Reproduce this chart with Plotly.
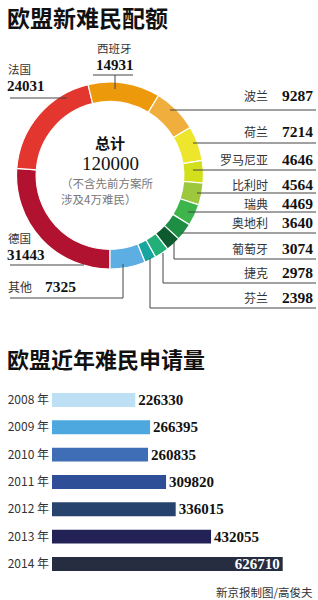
import plotly.graph_objects as go

W, H = 318, 600

# ---- Data ----
quota_countries = ["德国", "法国", "西班牙", "波兰", "荷兰", "罗马尼亚", "比利时",
                   "瑞典", "奥地利", "葡萄牙", "捷克", "芬兰", "其他"]
quota_values = [31443, 24031, 14931, 9287, 7214, 4646, 4564, 4469, 3640, 3074, 2978, 2398, 7325]
quota_colors = ["#B0122F", "#E3362F", "#EC9A0C", "#F0AF3C", "#EEE62C", "#D2DF1C", "#9DC83E",
                "#3DB54A", "#1E8E45", "#0D5A2E", "#22AF78", "#18A59F", "#5CAEE3"]
quota_total = 120000

years = ["2008 年", "2009 年", "2010 年", "2011 年", "2012 年", "2013 年", "2014 年"]
applications = [226330, 266395, 260835, 309820, 336015, 432055, 626710]
bar_colors = ["#BEE0F4", "#4EA8E0", "#3F6EB6", "#2E4E98", "#28426E", "#232256", "#262D40"]

SERIF = "Liberation Serif"
SANS = "Noto Sans CJK SC"


def px(x):
    return x / W


def py(y):
    return 1 - y / H


fig = go.Figure()

# ---- Donut ----
cx, cy, R = 110, 175.5, 93.5
fig.add_trace(go.Pie(
    labels=quota_countries, values=quota_values, sort=False, direction="clockwise",
    rotation=180, hole=0.79, textinfo="none", hoverinfo="label+value",
    marker=dict(colors=quota_colors, line=dict(color="white", width=1.2)),
    domain=dict(x=[px(cx - R), px(cx + R)], y=[py(cy + R), py(cy - R)]),
    showlegend=False,
))

# ---- Bars ----
fig.add_trace(go.Bar(
    y=years, x=applications, orientation="h",
    marker=dict(color=bar_colors, line=dict(width=0)),
    text=[str(v) for v in applications],
    texttemplate="<b>%{text}</b>",
    textposition=["outside"] * 6 + ["inside"],
    insidetextanchor="end",
    outsidetextfont=dict(family=SERIF, size=15, color="#111"),
    insidetextfont=dict(family=SERIF, size=15, color="white"),
    textfont=dict(family=SERIF, size=15),
    constraintext="none", cliponaxis=False,
    xaxis="x", yaxis="y", showlegend=False,
))

bar_top, bar_step = 386.3, 27.33
x0_px, k = 52, 230.7 / 626710
fig.update_layout(
    xaxis=dict(domain=[px(x0_px), 1], range=[0, (W - x0_px) / k], visible=False, fixedrange=True),
    yaxis=dict(domain=[py(bar_top + 7 * bar_step), py(bar_top)], autorange="reversed",
               showgrid=False, showline=False, zeroline=False, ticks="",
               tickfont=dict(family=SANS, size=12, color="#333"), ticklabelstandoff=2),
    bargap=0.49,
)

ann = []


def text(x, y, s, size=12, color="#333", family=SANS, anchor="left", bold=False):
    if bold:
        s = "<b>" + s + "</b>"
    ann.append(dict(x=px(x), y=py(y), xref="paper", yref="paper", text=s, showarrow=False,
                    xanchor=anchor, yanchor="middle", borderpad=0,
                    font=dict(family=family, size=size, color=color)))


# titles
text(6, 17, "欧盟新难民配额", size=23, color="#111", bold=True)
text(6, 358, "欧盟近年难民申请量", size=22, color="#111", bold=True)
text(314, 592, "新京报制图/高俊夫", size=11.5, color="#333", anchor="right")

# center text
text(cx, 143, "总计", size=15, color="#111", anchor="center", bold=True)
text(cx, 163, str(quota_total), size=19, color="#111", family=SERIF, anchor="center")
text(60, 183, "（不含先前方案所", size=11.5, color="#777")
text(60, 199, "涉及4万难民）", size=11.5, color="#777")

val = dict(zip(quota_countries, quota_values))

# left / top labels (name above number)
text(7, 69, "法国", size=11.5)
text(6, 86, str(val["法国"]), size=15, color="#111", family=SERIF, bold=True)
text(115, 48, "西班牙", size=11.5, anchor="center")
text(115, 65, str(val["西班牙"]), size=15, color="#111", family=SERIF, anchor="center", bold=True)
text(7, 238, "德国", size=11.5)
text(6, 255, str(val["德国"]), size=15, color="#111", family=SERIF, bold=True)
text(7, 287, "其他", size=12)
text(44, 287, str(val["其他"]), size=15.5, color="#111", family=SERIF, bold=True)

# right labels
right_y = {"波兰": 95, "荷兰": 132, "罗马尼亚": 159, "比利时": 184, "瑞典": 203, "奥地利": 223,
           "葡萄牙": 248, "捷克": 272, "芬兰": 298}
for name, yy in right_y.items():
    text(269, yy, name, size=12, anchor="right")
    text(314, yy, str(val[name]), size=15.5, color="#111", family=SERIF, anchor="right", bold=True)

# leader lines
segs = [
    ((10, 98), (67, 98)),
    ((93, 75), (133, 75)), ((115, 75), (115, 89)),
    ((170, 110), (316, 110)),
    ((193, 143), (316, 143)),
    ((193, 170), (316, 170)),
    ((197, 193), (316, 193)),
    ((188, 212), (316, 212)),
    ((181, 233), (316, 233)),
    ((174, 241), (174, 259)), ((174, 259), (316, 259)),
    ((163, 253), (163, 283)), ((163, 283), (316, 283)),
    ((150, 258), (150, 308)), ((150, 308), (316, 308)),
    ((10, 265), (84, 265)),
    ((123, 264), (123, 298)), ((10, 298), (123, 298)),
]
shapes = [dict(type="line", xref="paper", yref="paper", x0=px(a[0]), y0=py(a[1]), x1=px(b[0]), y1=py(b[1]),
               line=dict(color="#444", width=1)) for a, b in segs]

fig.update_layout(
    width=W, height=H, margin=dict(l=0, r=0, t=0, b=0),
    paper_bgcolor="white", plot_bgcolor="white",
    annotations=ann, shapes=shapes, showlegend=False,
)

fig.write_html("out.html", config=dict(displayModeBar=False))
